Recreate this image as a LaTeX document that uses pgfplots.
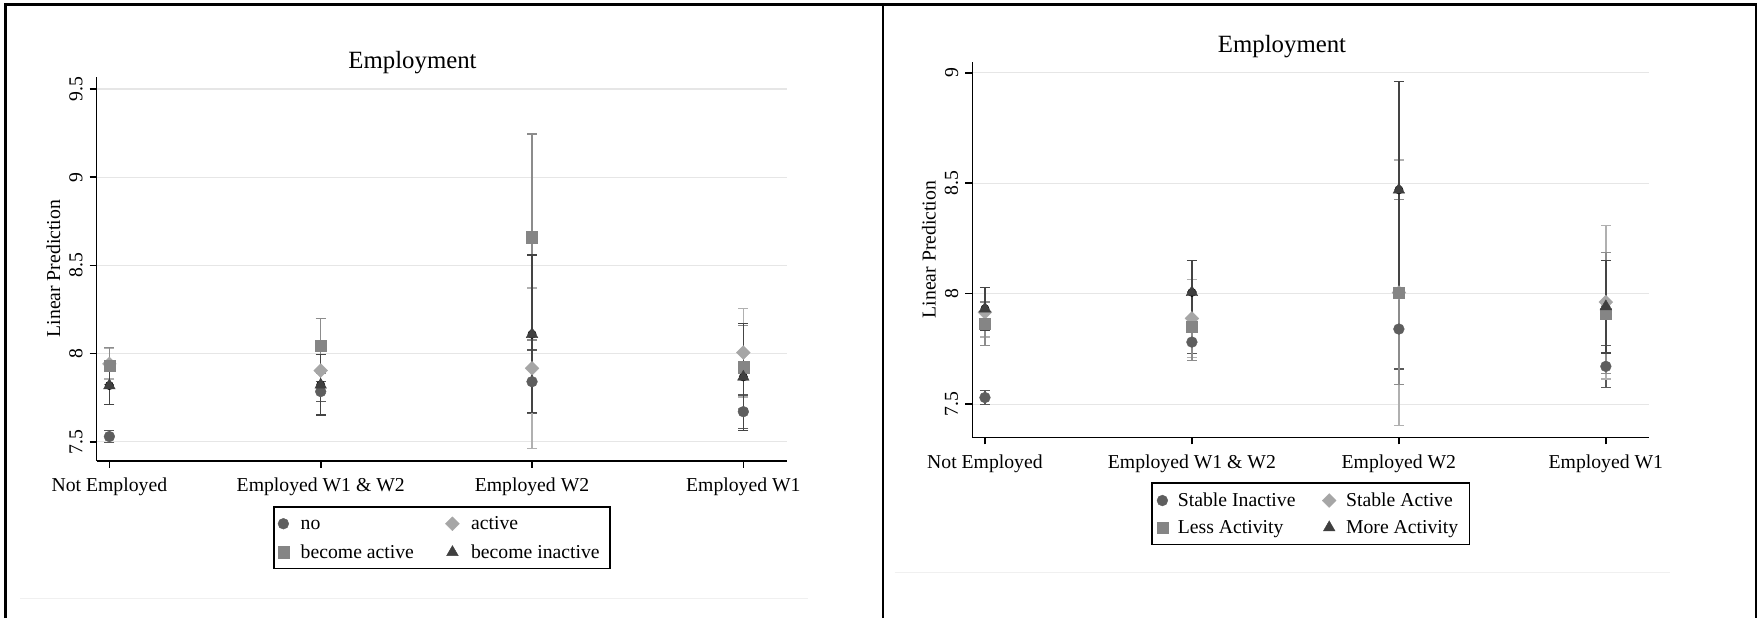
\documentclass[border=0pt]{standalone}
\usepackage{fontspec}
\setmainfont{Liberation Serif}
\usepackage{pgfplots}
\pgfplotsset{compat=1.18}
\definecolor{cNo}{HTML}{5E5E5E}
\definecolor{cAct}{HTML}{A6A6A6}
\definecolor{cBA}{HTML}{858585}
\definecolor{cBI}{HTML}{3F3F3F}
\definecolor{eNo}{HTML}{5A5A5A}
\definecolor{eAct}{HTML}{B0B0B0}
\definecolor{eBA}{HTML}{8C8C8C}
\definecolor{eBI}{HTML}{444444}
\definecolor{gridc}{HTML}{E6E6E6}
\newcommand\fs{\fontsize{9.85}{11.8}\selectfont}
\newcommand\ft{\fontsize{12.4}{14.9}\selectfont}
\pgfplotsset{
  stataaxis/.style={
    scale only axis, axis lines=left, axis line style={-, line width=0.8pt, black},
    tick align=outside, major tick length=3.5pt, tick style={line width=0.8pt, black},
    ymajorgrids, grid style={gridc, line width=0.6pt},
    xtick={0,1,2,3},
    xticklabels={Not Employed, Employed W1 \& W2, Employed W2, Employed W1},
    ylabel={Linear Prediction},
    /pgf/number format/assume math mode=true,
    tick label style={font=\fs},
    label style={font=\fs},
    yticklabel style={rotate=90, anchor=south},
    xticklabel style={yshift=-1.6pt},
    title style={font=\ft},
    legend columns=2, legend cell align=left,
    legend image code/.code={\draw[##1] plot coordinates {(0pt,0pt)};},
    clip=false,
  },
  cis/.style={only marks, mark=none, forget plot,
    /pgfplots/error bars/y dir=both, /pgfplots/error bars/y explicit,
    /pgfplots/error bars/error mark=-,
    /pgfplots/error bars/error bar style={line width=0.75pt, draw=#1},
    /pgfplots/error bars/error mark options={rotate=90, line width=0.75pt, mark size=2.5pt, draw=#1}},
  pCirc/.style={only marks, mark=*, mark size=2.7pt, color=#1, mark options={draw=#1, fill=#1, line width=0.2pt}},
  pDiam/.style={only marks, mark=square*, mark size=2.45pt, color=#1, mark options={rotate=45, draw=#1, fill=#1, line width=0.2pt}},
  pSq/.style={only marks, mark=square*, mark size=2.8pt, color=#1, mark options={draw=#1, fill=#1, line width=0.2pt}},
  pTri/.style={only marks, mark=triangle*, mark size=3.35pt, color=#1, mark options={draw=#1, fill=#1, line width=0.2pt}},
}
\begin{document}
\begin{tikzpicture}
\useasboundingbox (0,0) rectangle (880pt,309pt);
% panel frames
\draw[line width=1.15pt, black] (2.75pt,0) -- (2.75pt,306.75pt) -- (878pt,306.75pt) -- (878pt,0);
\draw[line width=1.15pt, black] (441.35pt,0) -- (441.35pt,306.75pt);
\draw[line width=0.5pt, black!6] (10pt,9.85pt) -- (404pt,9.85pt);
\draw[line width=0.5pt, black!6] (447.25pt,22.85pt) -- (835pt,22.85pt);

% ---------------- left panel ----------------
\begin{axis}[stataaxis,
  at={(48.35pt,78.65pt)}, anchor=south west,
  width=345.3pt, height=192pt,
  xmin=-0.06, xmax=3.208, ymin=7.393, ymax=9.570,
  ytick={7.5,8,8.5,9,9.5},
  title={Employment},
  title style={at={(axis description cs:0.4573,1.042)}, anchor=center, yshift=-7.1pt},
  ylabel style={at={(axis description cs:-0.0628,0.5)}, anchor=center},
  legend style={at={(axis description cs:0.5,-0.118)}, anchor=north, draw=black, line width=0.8pt,
    inner xsep=1.9pt, inner ysep=5pt, row sep=7.45pt, font=\fs,
    nodes={inner xsep=3.28pt, inner ysep=0pt, text height=6.2pt, text depth=0pt},
    /tikz/every odd column/.style={column sep=2.6pt},
    /tikz/every even column/.style={column sep=12.5pt}},
]
% confidence intervals
\addplot[cis=eNo] coordinates {(0,7.53) += (0,0.033) -= (0,0.035) (1,7.785) +- (0,0.057) (2,7.841) += (0,0.18) -= (0,0.179) (3,7.671) += (0,0.095) -= (0,0.094)};
\addplot[cis=eAct] coordinates {(0,7.942) +- (0,0.087) (1,7.904) +- (0,0.13) (2,7.917) += (0,0.455) -= (0,0.456) (3,8.006) += (0,0.251) -= (0,0.253)};
\addplot[cis=eBA] coordinates {(0,7.93) +- (0,0.104) (1,8.044) +- (0,0.154) (2,8.66) += (0,0.585) -= (0,0.582) (3,7.923) +- (0,0.236)};
\addplot[cis=eBI] coordinates {(0,7.819) +- (0,0.108) (1,7.823) +- (0,0.171) (2,8.11) += (0,0.45) -= (0,0.445) (3,7.868) += (0,0.304) -= (0,0.305)};
% point estimates
\addplot[pCirc=cNo] coordinates {(0,7.53) (1,7.785) (2,7.841) (3,7.671)};
\addlegendentry{no}
\addplot[pDiam=cAct] coordinates {(0,7.942) (1,7.904) (2,7.917) (3,8.006)};
\addlegendentry{active}
\addplot[pSq=cBA] coordinates {(0,7.93) (1,8.044) (2,8.66) (3,7.923)};
\addlegendentry{become active}
\addplot[pTri=cBI] coordinates {(0,7.819) (1,7.823) (2,8.11) (3,7.868)};
\addlegendentry{become inactive}
\end{axis}

% ---------------- right panel ----------------
\begin{axis}[stataaxis,
  at={(486.15pt,90.35pt)}, anchor=south west,
  width=338.5pt, height=187.8pt,
  xmin=-0.061, xmax=3.21, ymin=7.35, ymax=9.05,
  ytick={7.5,8,8.5,9},
  title={Employment},
  title style={at={(axis description cs:0.4575,1.0458)}, anchor=center, yshift=-7.1pt},
  ylabel style={at={(axis description cs:-0.064,0.5)}, anchor=center},
  legend style={at={(axis description cs:0.5,-0.119)}, anchor=north, draw=black, line width=0.8pt,
    inner xsep=2.4pt, inner ysep=5.4pt, row sep=6.7pt, font=\fs,
    nodes={inner xsep=3.28pt, inner ysep=0pt, text height=6.2pt, text depth=0pt},
    /tikz/every odd column/.style={column sep=1.7pt},
    /tikz/every even column/.style={column sep=10.1pt}},
]
\addplot[cis=eNo] coordinates {(0,7.53) += (0,0.031) -= (0,0.032) (1,7.781) +- (0,0.052) (2,7.84) +- (0,0.181) (3,7.671) +- (0,0.095)};
\addplot[cis=eAct] coordinates {(0,7.916) +- (0,0.112) (1,7.888) +- (0,0.177) (2,8.005) +- (0,0.601) (3,7.962) += (0,0.346) -= (0,0.347)};
\addplot[cis=eBA] coordinates {(0,7.864) +- (0,0.099) (1,7.852) +- (0,0.155) (2,8.005) += (0,0.422) -= (0,0.417) (3,7.91) += (0,0.277) -= (0,0.272)};
\addplot[cis=eBI] coordinates {(0,7.932) +- (0,0.097) (1,8.006) +- (0,0.145) (2,8.47) +- (0,0.49) (3,7.942) += (0,0.209) -= (0,0.21)};
\addplot[pCirc=cNo] coordinates {(0,7.53) (1,7.781) (2,7.84) (3,7.671)};
\addlegendentry{Stable Inactive}
\addplot[pDiam=cAct] coordinates {(0,7.916) (1,7.888) (2,8.005) (3,7.962)};
\addlegendentry{Stable Active}
\addplot[pSq=cBA] coordinates {(0,7.864) (1,7.852) (2,8.005) (3,7.91)};
\addlegendentry{Less Activity}
\addplot[pTri=cBI] coordinates {(0,7.932) (1,8.006) (2,8.47) (3,7.942)};
\addlegendentry{More Activity}
\end{axis}
\end{tikzpicture}
\end{document}
